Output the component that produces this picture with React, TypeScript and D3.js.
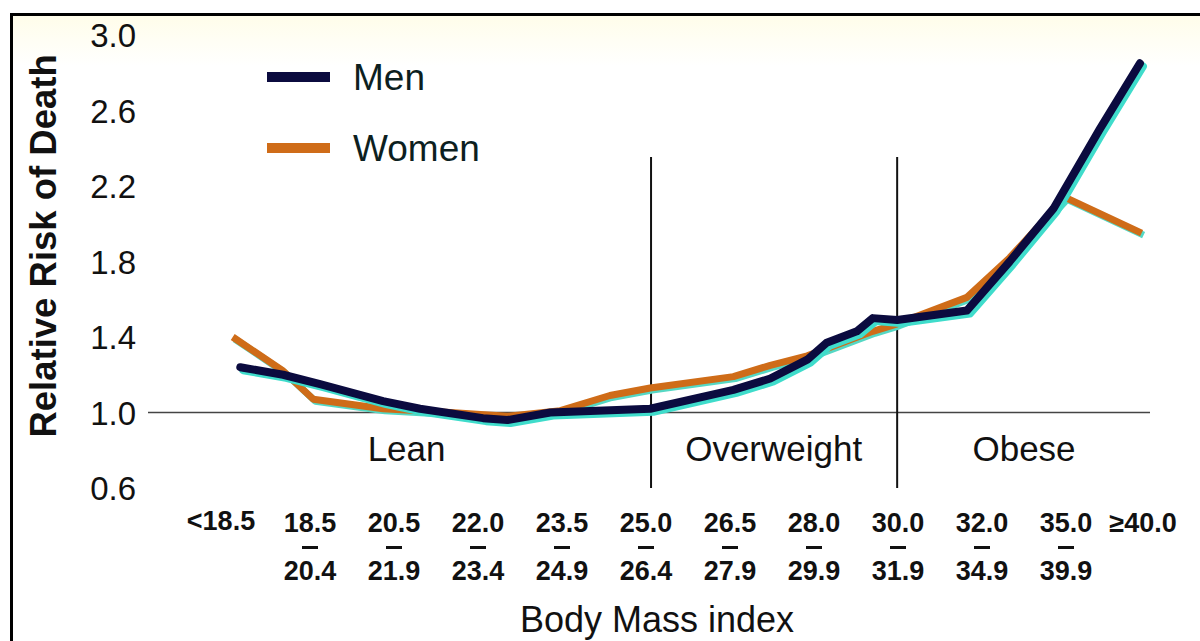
import * as d3 from "d3";
import { useEffect, useRef } from "react";

// category labels along the bottom (top line / bottom line)
const categoryTop = ["<18.5", "18.5", "20.5", "22.0", "23.5", "25.0", "26.5", "28.0", "30.0", "32.0", "35.0", "\u226540.0"];
const categoryBottom = ["", "20.4", "21.9", "23.4", "24.9", "26.4", "27.9", "29.9", "31.9", "34.9", "39.9", ""];

// y ticks
const yTicks = [0.6, 1.0, 1.4, 1.8, 2.2, 2.6, 3.0];

// men curve: position along category axis (0 = first category) and relative risk
const menPos = [0.17, 0.68, 1.12, 1.87, 2.31, 3.06, 3.35, 3.86, 5.05, 6.04, 6.48, 6.92, 7.15, 7.51, 7.7, 7.99, 8.82, 9.33, 9.85, 10.4, 10.88];
const menRisk = [1.24, 1.2, 1.15, 1.06, 1.02, 0.97, 0.96, 1.0, 1.02, 1.12, 1.18, 1.28, 1.37, 1.43, 1.5, 1.49, 1.54, 1.8, 2.08, 2.5, 2.85];

// women curve
const womenPos = [0.08, 0.68, 1.04, 1.87, 2.67, 3.35, 3.98, 4.57, 5.05, 6.04, 6.48, 6.92, 7.7, 7.99, 8.82, 9.33, 9.99, 10.9];
const womenRisk = [1.4, 1.22, 1.07, 1.02, 1.0, 0.98, 1.01, 1.09, 1.13, 1.19, 1.25, 1.3, 1.43, 1.47, 1.61, 1.82, 2.14, 1.95];

// weight class regions
const regionNames = ["Lean", "Overweight", "Obese"];
const regionCenters = [2.15, 6.52, 9.5];
const dividers = [5.06, 7.99];

export default function App() {
  const ref = useRef<SVGSVGElement>(null);

  useEffect(() => {
    const svg = d3.select(ref.current);
    svg.selectAll("*").remove();

    const W = 1200;
    const H = 641;

    const x = d3.scaleLinear().domain([0, 11]).range([226, 1150]);
    const y = d3.scaleLinear().domain([0.6, 3.0]).range([488, 35]);

    // faint yellow tint at top of frame
    const grad = svg.append("defs").append("linearGradient")
      .attr("id", "tint").attr("x1", 0).attr("x2", 0).attr("y1", 0).attr("y2", 1);
    grad.append("stop").attr("offset", "0%").attr("stop-color", "#fffdea");
    grad.append("stop").attr("offset", "100%").attr("stop-color", "#ffffff");

    svg.append("rect").attr("width", W).attr("height", H).attr("fill", "#fff");
    svg.append("rect").attr("x", 13).attr("y", 16).attr("width", W - 13).attr("height", 50).attr("fill", "url(#tint)");

    // frame (left + top)
    svg.append("line").attr("x1", 11.5).attr("x2", 11.5).attr("y1", 13).attr("y2", H)
      .attr("stroke", "#000").attr("stroke-width", 3);
    svg.append("line").attr("x1", 10).attr("x2", W).attr("y1", 14.5).attr("y2", 14.5)
      .attr("stroke", "#000").attr("stroke-width", 3);

    const font = "Liberation Sans, Arial, sans-serif";

    // y tick labels
    svg.append("g").selectAll("text").data(yTicks).join("text")
      .attr("x", 136).attr("y", (d) => y(d) + 12)
      .attr("text-anchor", "end")
      .attr("font-family", font).attr("font-size", 33).attr("fill", "#111")
      .text((d) => d.toFixed(1));

    // y label
    svg.append("text")
      .attr("transform", `translate(56,${(y(0.85) + y(3.0)) / 2 + 8}) rotate(-90)`)
      .attr("text-anchor", "middle")
      .attr("font-family", font).attr("font-size", 36.5).attr("font-weight", "bold").attr("fill", "#111")
      .text("Relative Risk of Death");

    // baseline at 1.0
    svg.append("line").attr("x1", 148).attr("x2", 1150).attr("y1", y(1.0)).attr("y2", y(1.0))
      .attr("stroke", "#444").attr("stroke-width", 1.5);

    // dividers
    svg.append("g").selectAll("line").data(dividers).join("line")
      .attr("x1", (d) => x(d)).attr("x2", (d) => x(d))
      .attr("y1", 157).attr("y2", y(0.6))
      .attr("stroke", "#111").attr("stroke-width", 2);

    // region labels
    svg.append("g").selectAll("text").data(regionNames).join("text")
      .attr("x", (_, i) => x(regionCenters[i])).attr("y", 461)
      .attr("text-anchor", "middle")
      .attr("font-family", font).attr("font-size", 35).attr("fill", "#111")
      .text((d) => d);

    // category labels: top + bottom lines as tspans, small dash between
    const labelX = (i: number) => x(i) + (i === 0 ? -5 : i === 11 ? -7 : 0);
    const cat = svg.append("g").selectAll("text").data(categoryTop).join("text")
      .attr("x", (_, i) => labelX(i))
      .attr("y", (_, i) => (i === 0 ? 530 : 532))
      .attr("text-anchor", "middle")
      .attr("font-family", font).attr("font-size", 27).attr("font-weight", "bold").attr("fill", "#111");
    cat.each(function (d, i) {
      const t = d3.select(this);
      t.append("tspan").attr("x", labelX(i)).text(d);
      if (categoryBottom[i] !== "") {
        t.append("tspan").attr("x", labelX(i)).attr("dy", 48).text(categoryBottom[i]);
      }
    });
    svg.append("g").selectAll("line")
      .data(categoryBottom.map((b, i) => ({ b, i })).filter((d) => d.b !== ""))
      .join("line")
      .attr("x1", (d) => labelX(d.i) - 8).attr("x2", (d) => labelX(d.i) + 8)
      .attr("y1", 547.5).attr("y2", 547.5)
      .attr("stroke", "#111").attr("stroke-width", 3);

    // x label
    svg.append("text").attr("x", 657).attr("y", 632).attr("text-anchor", "middle")
      .attr("font-family", font).attr("font-size", 36).attr("fill", "#111")
      .text("Body Mass index");

    // lines
    const line = d3.line<[number, number]>().x((d) => x(d[0])).y((d) => y(d[1]));
    const men = menPos.map((p, i) => [p, menRisk[i]] as [number, number]);
    const women = womenPos.map((p, i) => [p, womenRisk[i]] as [number, number]);

    const g = svg.append("g");
    g.append("path").attr("d", line(women)).attr("transform", "translate(2,2)")
      .attr("fill", "none").attr("stroke", "#55d8c4").attr("stroke-width", 7)
      .attr("stroke-linejoin", "round");
    g.append("path").attr("d", line(women))
      .attr("fill", "none").attr("stroke", "#cf6c18").attr("stroke-width", 7)
      .attr("stroke-linejoin", "round");
    g.append("path").attr("d", line(men)).attr("transform", "translate(3,3)")
      .attr("fill", "none").attr("stroke", "#3fdccb").attr("stroke-width", 8)
      .attr("stroke-linejoin", "round").attr("stroke-linecap", "round");
    g.append("path").attr("d", line(men))
      .attr("fill", "none").attr("stroke", "#0b0b3f").attr("stroke-width", 8)
      .attr("stroke-linejoin", "round").attr("stroke-linecap", "round");

    // legend
    const legend = [
      { name: "Men", color: "#0b0b3f", ly: 77 },
      { name: "Women", color: "#cf6c18", ly: 148 },
    ];
    const lg = svg.append("g").selectAll("g").data(legend).join("g");
    lg.append("line").attr("x1", 267).attr("x2", 330)
      .attr("y1", (d) => d.ly).attr("y2", (d) => d.ly)
      .attr("stroke", (d) => d.color).attr("stroke-width", 10);
    lg.append("text").attr("x", 353).attr("y", (d) => d.ly + 13)
      .attr("font-family", font).attr("font-size", 37).attr("fill", "#0d1f1f")
      .text((d) => d.name);
  }, []);

  return (
    <svg ref={ref} width={1200} height={641}
      style={{ position: "absolute", left: 0, top: 0, display: "block" }} />
  );
}
